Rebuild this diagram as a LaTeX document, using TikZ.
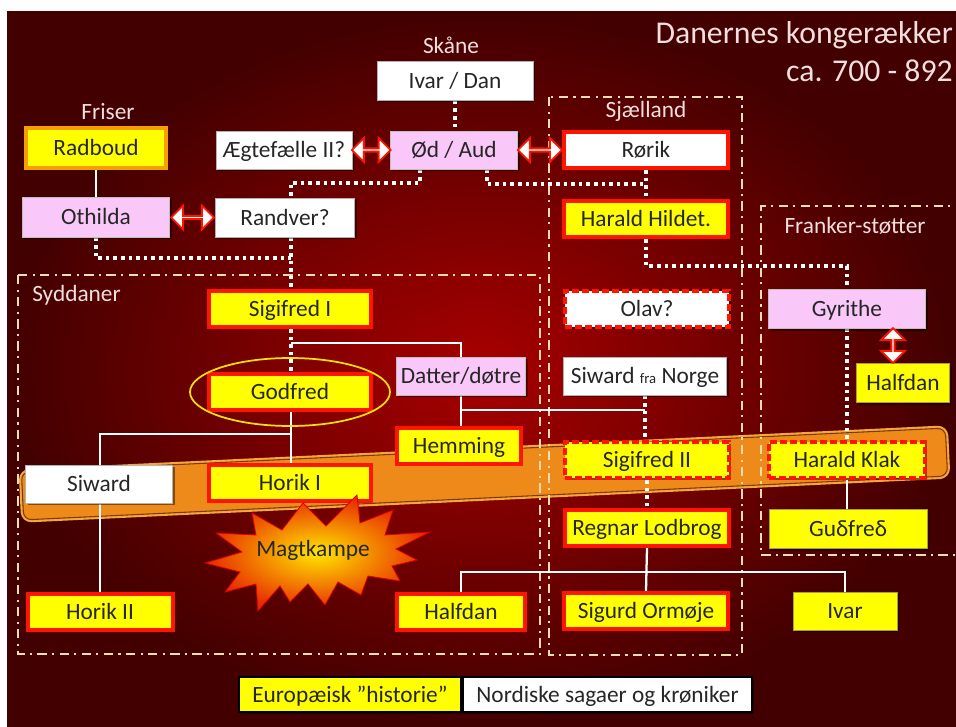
\documentclass[tikz,border=0pt]{standalone}
\usepackage{fontspec}
\setmainfont{Carlito}
\usetikzlibrary{shapes.geometric,shapes.arrows,shadows,calc}
\definecolor{bgin}{HTML}{A80000}
\definecolor{bgout}{HTML}{420000}
\definecolor{pinkb}{HTML}{F9C8F9}
\definecolor{ybox}{HTML}{FFFF00}
\definecolor{rbord}{HTML}{FF1400}
\definecolor{frame}{HTML}{EEDDB0}
\definecolor{lblc}{HTML}{F2DEDE}
\definecolor{txt}{HTML}{262626}
\definecolor{bandf}{HTML}{EE8A1A}
\definecolor{bandd}{HTML}{7A3A00}
\definecolor{bando}{HTML}{F6A640}
\definecolor{orb}{HTML}{F5A000}
\definecolor{burstin}{HTML}{FFE600}
\definecolor{burstout}{HTML}{E82800}
\pgfdeclarelayer{back}
\pgfdeclarelayer{conn}
\pgfsetlayers{back,conn,main}
\newcommand\bxf{\fontsize{17.5}{20}\selectfont}
\newcommand\smallfra{\fontsize{11}{13}\selectfont}
\newcommand\ttlf{\fontsize{23.8}{28}\selectfont}
\tikzset{
 bx/.style={rectangle, inner sep=0pt, font=\bxf, text=txt, text height=14.8pt, text depth=3.5pt,
   drop shadow={shadow xshift=1.5pt, shadow yshift=-1.5pt, opacity=0.45, fill=black}},
 wbx/.style={bx, fill=white, draw=gray!60, line width=0.5pt},
 pbx/.style={bx, fill=pinkb, draw=gray!50, line width=0.5pt},
 ybx/.style={bx, fill=ybox, draw=yellow!60!black, line width=0.5pt},
 rybx/.style={bx, fill=ybox, draw=rbord, line width=3pt},
 rwbx/.style={bx, fill=white, draw=rbord, line width=3pt},
 rdybx/.style={rybx, dash pattern=on 5pt off 2.5pt},
 rdwbx/.style={rwbx, dash pattern=on 5pt off 2.5pt},
 lgbx/.style={bx, draw=black, line width=1.5pt, minimum height=26.25pt},
 lbl/.style={font=\bxf, text=lblc, inner sep=0pt},
 frm/.style={draw=frame, line width=1.6pt, dash pattern=on 7pt off 4pt on 1.6pt off 4pt},
 dotc/.style={draw=white, line width=2.7pt, dash pattern=on 2.7pt off 3pt},
 sol/.style={draw=white, line width=1.7pt},
 dblarr/.style={double arrow, fill=white, draw=rbord, line width=1.4pt, inner sep=0pt,
   double arrow head extend=4.5pt, minimum width=18pt},
}
\begin{document}
\begin{tikzpicture}[x=0.75pt,y=-0.75pt]
\useasboundingbox (0,0) rectangle (956,727);
\begin{pgfonlayer}{back}
\fill[white] (0,0) rectangle (956,727);
\shade[inner color=bgin, outer color=bgout] (7,12) rectangle (956,727);
\node (band) [rotate=2.72, minimum width=693.75pt, minimum height=36pt, inner sep=0pt,
  rounded corners=6pt, fill=bandf, draw=bandd, line width=0.8pt,
  preaction={draw=bando, line width=4pt}] at (484.5,474) {};
\draw[frm] (18,275) rectangle (540,654);
\draw[frm] (549,97) rectangle (742,655);
\draw[frm] (965,206) -- (761,206) -- (761,555) -- (965,555);
\end{pgfonlayer}

% labels and title
\node[font=\ttlf, text=lblc, anchor=base east, inner sep=0pt] (t1) at (953,44) {Danernes kongerækker};
\node[font=\ttlf, text=lblc, anchor=base east, inner sep=0pt] (t2) at (953,82) {ca. 700 - 892};
\node[lbl] (skane) at (451,45) {Skåne};
\node[lbl] (friser) at (108,112) {Friser};
\node[lbl] (sjael) at (646,111) {Sjælland};
\node[lbl] (frank) at (855,226) {Franker-støtter};
\node[lbl, anchor=west] (sydd) at (32,295) {Syddaner};

% boxes
\node[wbx, minimum width=117pt, minimum height=29.25pt] (ivar) at (455,81) {Ivar / Dan};
\node[bx, fill=ybox, draw=orb, line width=3pt, minimum width=105pt, minimum height=30pt] (radboud) at (96,148) {Radboud};
\node[wbx, minimum width=102pt, minimum height=28.5pt] (aeg) at (284,150) {Ægtefælle II?};
\node[pbx, minimum width=95.25pt, minimum height=28.5pt] (od) at (454,150) {Ød / Aud};
\node[rwbx, minimum width=123pt, minimum height=27pt] (rorik) at (646,150) {Rørik};
\node[pbx, minimum width=110.25pt, minimum height=30pt] (othilda) at (96,217) {Othilda};
\node[wbx, minimum width=104.25pt, minimum height=29.25pt] (randver) at (285,218) {Randver?};
\node[rybx, minimum width=123pt, minimum height=27pt] (hildet) at (646,219) {Harald Hildet.};
\node[rdwbx, minimum width=123pt, minimum height=27pt] (olav) at (647,309) {Olav?};
\node[rybx, minimum width=121.5pt, minimum height=27pt] (sig1) at (290,309) {Sigifred I};
\node[pbx, minimum width=117.75pt, minimum height=29.25pt] (gyrithe) at (847,309) {Gyrithe};
\node[rybx, minimum width=121.5pt, minimum height=27pt] (godfred) at (290,392) {Godfred};
\node[pbx, minimum width=96.75pt, minimum height=28.5pt] (datter) at (461,376) {Datter/døtre};
\node[wbx, minimum width=122.25pt, minimum height=28.5pt] (siwardn) at (645,376) {Siward {\smallfra fra} Norge};
\node[ybx, minimum width=69.75pt, minimum height=29.25pt] (halfdan1) at (903,383) {Halfdan};
\node[rybx, minimum width=93pt, minimum height=27pt] (hemming) at (459,446) {Hemming};
\node[rdybx, minimum width=123pt, minimum height=27pt] (sig2) at (647,460) {Sigifred II};
\node[rdybx, minimum width=117pt, minimum height=27pt] (klak) at (847,460) {Harald Klak};
\node[wbx, minimum width=110.25pt, minimum height=28.5pt] (siward) at (99,484) {Siward};
\node[rybx, minimum width=121.5pt, minimum height=27pt] (horik1) at (290,483) {Horik I};
\node[rybx, minimum width=123pt, minimum height=27pt] (regnar) at (647,528) {Regnar Lodbrog};
\node[ybx, minimum width=118.5pt, minimum height=29.25pt] (gudfred) at (848,529) {Guδfreδ};
\node[rybx, minimum width=108.75pt, minimum height=27pt] (horik2) at (100,612) {Horik II};
\node[rybx, minimum width=96pt, minimum height=27pt] (halfdan2) at (461,612) {Halfdan};
\node[rybx, minimum width=123pt, minimum height=27pt] (sigurd) at (646,611) {Sigurd Ormøje};
\node[ybx, minimum width=78pt, minimum height=28.5pt] (ivar2) at (845,611) {Ivar};
\node[lgbx, fill=ybox, minimum width=166.5pt] (leg1) at (350,694.5) {Europæisk ”historie”};
\node[lgbx, fill=white, minimum width=216.75pt] (leg2) at (607.5,694.5) {Nordiske sagaer og krøniker};

% double arrows
\node[dblarr, minimum height=29pt] (arr1) at ($(aeg.east)!0.5!(od.west)$) {};
\node[dblarr, minimum height=33pt] (arr2) at ($(od.east)!0.5!(rorik.west)$) {};
\node[dblarr, minimum height=32pt] (arr3) at ($(othilda.east)!0.5!(randver.west)$) {};
\node[dblarr, shape border rotate=90, minimum height=26pt] (arr4) at (893,345.5) {};

% ring around Godfred
\node[ellipse, draw=yellow!85!orange, line width=1.3pt, minimum width=150pt, minimum height=51pt, inner sep=0pt] (ring) at (godfred) {};

% connectors
\begin{pgfonlayer}{conn}
\draw[dotc] (ivar.south) -- (od.north -| ivar.south);
\coordinate (cA0) at (420,183);
\coordinate (cA) at (291,183);
\draw[dotc] (od.south -| cA0) -- (cA0) -- (cA) -- (randver.north -| cA);
\coordinate (cB0) at (487,184);
\coordinate (cB) at (646,184);
\draw[dotc] (od.south -| cB0) -- (cB0) -- (cB);
\draw[dotc] (rorik.south) -- (hildet.north);
\coordinate (cC) at (646,266);
\draw[dotc] (hildet.south) -- (cC) -| (gyrithe.north);
\draw[dotc] (gyrithe.south) -- (klak.north);
\draw[sol] (klak.south) -- (gudfred.north -| klak.south);
\draw[sol] (radboud.south) -- (othilda.north);
\coordinate (cF) at (291,258);
\draw[dotc] (othilda.south) |- (cF);
\draw[dotc] (randver.south -| cA) -- (sig1.north -| cA);
\draw[dotc] (sig1.south -| cA) -- (godfred.north -| cA);
\coordinate (cI) at (291,343);
\draw[sol] (cI) -| (datter.north);
\draw[sol] (godfred.south -| cA) -- (horik1.north -| cA);
\coordinate (cJ) at (291,434);
\draw[sol] (cJ) -| (horik2.north);
\draw[sol] (datter.south) -- (hemming.north -| datter.south);
\coordinate (cK) at (461,410);
\draw[sol] (cK) -- (cK -| siwardn.south);
\draw[dotc] (siwardn.south) -- (sig2.north -| siwardn.south);
\draw[dotc] (sig2.south) -- (regnar.north);
\draw[sol] (regnar.south) -- (sigurd.north);
\coordinate (cM) at (646,572);
\draw[sol] (halfdan2.north) |- (cM) -| (ivar2.north);
\end{pgfonlayer}

% starburst
\path[shade, inner color=burstin, outer color=burstout, draw=red!85!black, line width=0.6pt]
 (205,563) -- (242,552) -- (216,533) -- (256,535) -- (252,513) -- (282,530) -- (303,503)
 -- (326,526) -- (357,495) -- (360,523) -- (393,510) -- (385,535) -- (430,532) -- (396,549)
 -- (417,560) -- (392,566) -- (400,581) -- (368,576) -- (361,595) -- (338,582) -- (325,605)
 -- (308,584) -- (290,602) -- (280,586) -- (258,611) -- (256,584) -- (225,592) -- (240,572) -- cycle;
\node[font=\bxf, text=txt, inner sep=0pt] (magt) at (313,550) {Magtkampe};
\end{tikzpicture}
\end{document}
